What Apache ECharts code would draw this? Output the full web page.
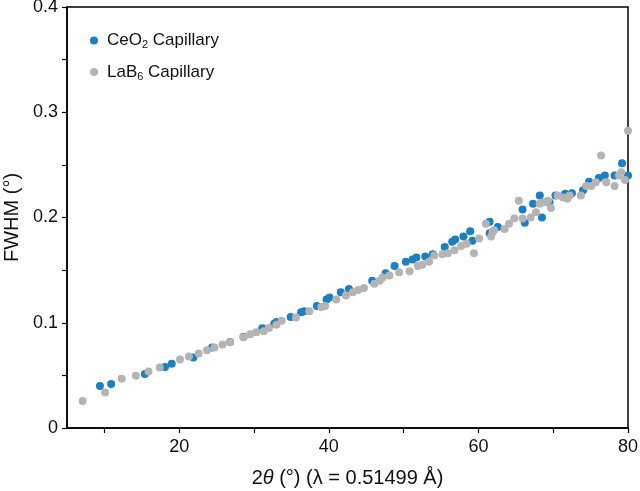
<!DOCTYPE html>
<html>
<head>
<meta charset="utf-8">
<script src="https://cdn.jsdelivr.net/npm/echarts@6/dist/echarts.min.js"></script>
<style>
  html, body { margin: 0; padding: 0; background: #fff; }
  #chart { width: 640px; height: 491px; }
</style>
</head>
<body>
<div id="chart"></div>
<script>
// CeO2 capillary: [2theta, FWHM]
var ceo2Data = [
  [9.4, 0.040], [10.9, 0.0417], [15.4, 0.0512], [18.1, 0.058], [19.0, 0.061],
  [21.9, 0.067], [24.4, 0.0765], [26.8, 0.0818], [28.6, 0.0866], [31.1, 0.0948],
  [32.7, 0.099], [33.0, 0.1008], [34.9, 0.1055], [36.3, 0.110], [36.7, 0.111],
  [38.4, 0.116], [39.7, 0.122], [40.1, 0.124], [41.6, 0.129], [42.7, 0.132],
  [45.8, 0.140], [47.6, 0.147], [48.8, 0.154], [50.3, 0.158], [51.2, 0.160],
  [51.7, 0.162], [52.9, 0.163], [53.9, 0.165], [55.5, 0.172], [56.5, 0.177],
  [56.9, 0.179], [58.0, 0.182], [58.9, 0.187], [59.2, 0.178], [61.5, 0.196],
  [61.5, 0.185], [62.6, 0.191], [65.9, 0.2076], [66.2, 0.195], [67.3, 0.213],
  [68.2, 0.221], [68.5, 0.200], [69.5, 0.2145], [70.3, 0.221], [71.6, 0.2225],
  [72.5, 0.223], [74.0, 0.226], [74.8, 0.234], [76.1, 0.2376], [76.9, 0.240],
  [78.2, 0.240], [79.2, 0.2515], [80.0, 0.240]
];

// LaB6 capillary: [2theta, FWHM]
var lab6Data = [
  [7.1, 0.0256], [10.1, 0.0338], [12.3, 0.0467], [14.2, 0.0496], [15.9, 0.0537],
  [17.4, 0.0575], [20.1, 0.065], [21.3, 0.068], [22.6, 0.0708], [23.7, 0.0739],
  [24.7, 0.0765], [25.8, 0.0793], [26.8, 0.0815], [28.6, 0.0862], [29.5, 0.089],
  [30.3, 0.091], [31.3, 0.092], [32.0, 0.095], [33.0, 0.098], [33.7, 0.102],
  [35.6, 0.105], [37.4, 0.111], [39.0, 0.115], [39.5, 0.116], [41.0, 0.122],
  [42.3, 0.126], [43.2, 0.129], [43.9, 0.131], [44.7, 0.133], [46.1, 0.137],
  [46.8, 0.140], [47.2, 0.143], [48.1, 0.145], [49.4, 0.148], [50.8, 0.149],
  [51.9, 0.154], [52.5, 0.155], [53.4, 0.158], [54.1, 0.164], [55.2, 0.165],
  [55.9, 0.166], [56.8, 0.169], [57.7, 0.173], [58.4, 0.175], [59.4, 0.166],
  [60.1, 0.180], [61.0, 0.194], [61.7, 0.182], [61.9, 0.186], [62.1, 0.188],
  [63.5, 0.189], [64.1, 0.194], [64.8, 0.199], [65.4, 0.216], [65.9, 0.199],
  [67.0, 0.200], [67.7, 0.205], [68.2, 0.213], [68.8, 0.2145], [69.3, 0.216],
  [69.7, 0.209], [70.6, 0.221], [71.3, 0.219], [71.9, 0.2177], [72.2, 0.221],
  [73.7, 0.221], [74.4, 0.230], [75.1, 0.230], [75.7, 0.2335], [76.4, 0.259],
  [77.1, 0.2335], [78.2, 0.230], [78.8, 0.240], [79.1, 0.243], [79.6, 0.2357],
  [80.0, 0.2825]
];

// ticks
var xTickValues = [10, 20, 30, 40, 50, 60, 70, 80];
var xLabelValues = [20, 40, 60, 80];
var yTickValues = [0, 0.05, 0.1, 0.15, 0.2, 0.25, 0.3, 0.35, 0.4];
var yLabelValues = [0, 0.1, 0.2, 0.3, 0.4];

var font = '"Liberation Sans", Arial, Helvetica, sans-serif';

var myChart = echarts.init(document.getElementById('chart'));
var option = {
  animation: false,
  textStyle: { fontFamily: font },
  grid: {
    left: 67, right: 12, top: 7, bottom: 63,
    outerBoundsMode: 'none',
    containLabel: false,
    show: true, borderColor: '#000', borderWidth: 1.5
  },
  legend: {
    orient: 'vertical',
    left: 85,
    top: 27,
    itemGap: 13,
    itemWidth: 16,
    itemHeight: 8,
    icon: 'circle',
    data: ['CeO2 Capillary', 'LaB6 Capillary'],
    formatter: function (name) {
      if (name === 'CeO2 Capillary') return 'CeO{sub|2} Capillary';
      return 'LaB{sub|6} Capillary';
    },
    textStyle: {
      fontFamily: font,
      fontSize: 17,
      color: '#111',
      rich: {
        sub: { fontSize: 11, padding: [9, 0, 0, 0], fontFamily: font, color: '#111' }
      }
    }
  },
  xAxis: {
    type: 'value',
    min: 5,
    max: 80,
    name: '2{i|θ} (°) (λ = 0.51499 Å)',
    nameLocation: 'middle',
    nameGap: 40,
    nameTextStyle: {
      fontFamily: font, fontSize: 20, color: '#111',
      rich: { i: { fontStyle: 'italic', fontSize: 20, fontFamily: font, color: '#111' } }
    },
    axisLine: { show: true, lineStyle: { color: '#000', width: 1.5 } },
    axisTick: { show: true, inside: false, length: 5, customValues: xTickValues, lineStyle: { color: '#000', width: 1.2 } },
    axisLabel: { customValues: xLabelValues, fontSize: 18, color: '#111', margin: 10, fontFamily: font },
    splitLine: { show: false }
  },
  yAxis: {
    type: 'value',
    min: 0,
    max: 0.4,
    name: 'FWHM (°)',
    nameLocation: 'middle',
    nameGap: 43,
    nameTextStyle: { fontFamily: font, fontSize: 20, color: '#111' },
    axisLine: { show: true, lineStyle: { color: '#000', width: 1.5 } },
    axisTick: { show: true, inside: false, length: 5, customValues: yTickValues, lineStyle: { color: '#000', width: 1.2 } },
    axisLabel: { customValues: yLabelValues, fontSize: 18, color: '#111', margin: 9, fontFamily: font },
    splitLine: { show: false }
  },
  series: [
    {
      name: 'CeO2 Capillary',
      type: 'scatter',
      data: ceo2Data,
      symbol: 'circle',
      symbolSize: 8,
      itemStyle: { color: '#1a7fc3', opacity: 1 }
    },
    {
      name: 'LaB6 Capillary',
      type: 'scatter',
      data: lab6Data,
      symbol: 'circle',
      symbolSize: 8,
      itemStyle: { color: '#b4b4b4', opacity: 1 }
    }
  ]
};
myChart.setOption(option);
window.onresize = myChart.resize;
</script>
</body>
</html>
